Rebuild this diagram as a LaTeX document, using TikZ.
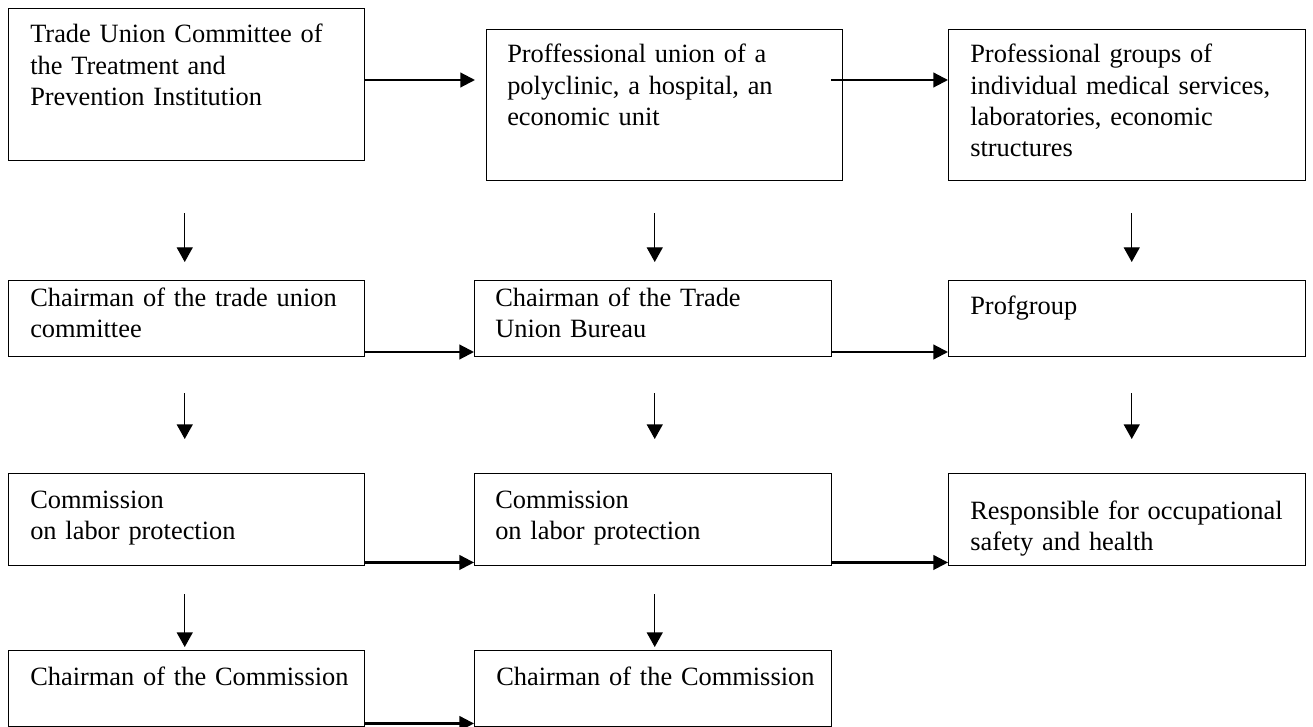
\documentclass[tikz,border=0pt]{standalone}
\usepackage{fontspec}
\setmainfont{Liberation Serif}
\usetikzlibrary{arrows.meta,calc}
\begin{document}
\begin{tikzpicture}[x=0.75pt,y=-0.75pt,
  box/.style={draw, line width=1.1pt, rectangle, anchor=north west, inner sep=0pt, minimum width=267pt},
  txt/.style={anchor=base west, inner sep=0pt, align=left, text width=255pt, font=\fontsize{19.8pt}{23.5pt}\selectfont},
  harrow/.style={line width=1.6pt, -{Triangle[length=11pt,width=11pt]}},
  varrow/.style={line width=1.0pt, -{Triangle[length=11pt,width=12pt]}}]
\useasboundingbox (0,0) rectangle (1313,727);
% boxes
\node[box, minimum height=114pt] (A) at (8,8) {};
\node[box, minimum height=113.25pt] (B) at (486,29) {};
\node[box, minimum height=113.25pt, minimum width=267.75pt] (C) at (948,29) {};
\node[box, minimum height=57pt] (D) at (8,280) {};
\node[box, minimum height=57pt, minimum width=267.75pt] (E) at (474,280) {};
\node[box, minimum height=57pt, minimum width=267.75pt] (F) at (948,280) {};
\node[box, minimum height=69pt] (G) at (8,473) {};
\node[box, minimum height=69pt, minimum width=267.75pt] (H) at (474,473) {};
\node[box, minimum height=69pt, minimum width=267.75pt] (I) at (948,473) {};
\node[box, minimum height=57pt] (J) at (8,650) {};
\node[box, minimum height=57pt, minimum width=267.75pt] (K) at (474,650) {};
% texts
\node[txt] (tA) at ($(A.north west)+(22,35)$) {Trade Union Committee of\\the Treatment and\\Prevention Institution};
\node[txt] (tB) at ($(B.north west)+(21,34)$) {Proffessional union of a\\polyclinic, a hospital, an\\economic unit};
\node[txt] (tC) at ($(C.north west)+(22,34)$) {Professional groups of\\individual medical services,\\laboratories, economic\\structures};
\node[txt] (tD) at ($(D.north west)+(22,26)$) {Chairman of the trade union\\committee};
\node[txt] (tE) at ($(E.north west)+(21,26)$) {Chairman of the Trade\\Union Bureau};
\node[txt] (tF) at ($(F.north west)+(22,35)$) {Profgroup};
\node[txt] (tG) at ($(G.north west)+(22,35)$) {Commission\\on labor protection};
\node[txt] (tH) at ($(H.north west)+(21,35)$) {Commission\\on labor protection};
\node[txt] (tI) at ($(I.north west)+(22,46)$) {Responsible for occupational\\safety and health};
\node[txt] (tJ) at ($(J.north west)+(22,35)$) {Chairman of the Commission};
\node[txt] (tK) at ($(K.north west)+(22,35)$) {Chairman of the Commission};
% horizontal arrows
\draw[harrow] ($(A.north east)+(0,72)$) -- ($(B.north west)+(-11,51)$);
\draw[harrow] ($(B.north east)+(-12,51)$) -- ($(C.north west)+(0,51)$);
\draw[harrow] ($(D.north east)+(0,72)$) -- ($(E.north west)+(0,72)$);
\draw[harrow] ($(E.north east)+(0,72)$) -- ($(F.north west)+(0,72)$);
\draw[harrow] ($(G.south east)+(0,-4)$) -- ($(H.south west)+(0,-4)$);
\draw[harrow] ($(H.south east)+(0,-4)$) -- ($(I.south west)+(0,-4)$);
\draw[harrow] ($(J.south east)+(0,-4)$) -- ($(K.south west)+(0,-4)$);
% vertical arrows
\draw[varrow] ($(A.south)+(-2,52)$) -- ($(D.north)+(-2,-18)$);
\draw[varrow] ($(B.south)+(-10,32)$) -- ($(E.north)+(1.5,-18)$);
\draw[varrow] ($(C.south)+(4.5,32)$) -- ($(F.north)+(4.5,-18)$);
\draw[varrow] ($(D.south)+(-2,36)$) -- ($(G.north)+(-2,-34)$);
\draw[varrow] ($(E.south)+(1.5,36)$) -- ($(H.north)+(1.5,-34)$);
\draw[varrow] ($(F.south)+(4.5,36)$) -- ($(I.north)+(4.5,-34)$);
\draw[varrow] ($(G.south)+(-2,28)$) -- ($(J.north)+(-2,-3)$);
\draw[varrow] ($(H.south)+(1.5,28)$) -- ($(K.north)+(1.5,-3)$);
\end{tikzpicture}
\end{document}
